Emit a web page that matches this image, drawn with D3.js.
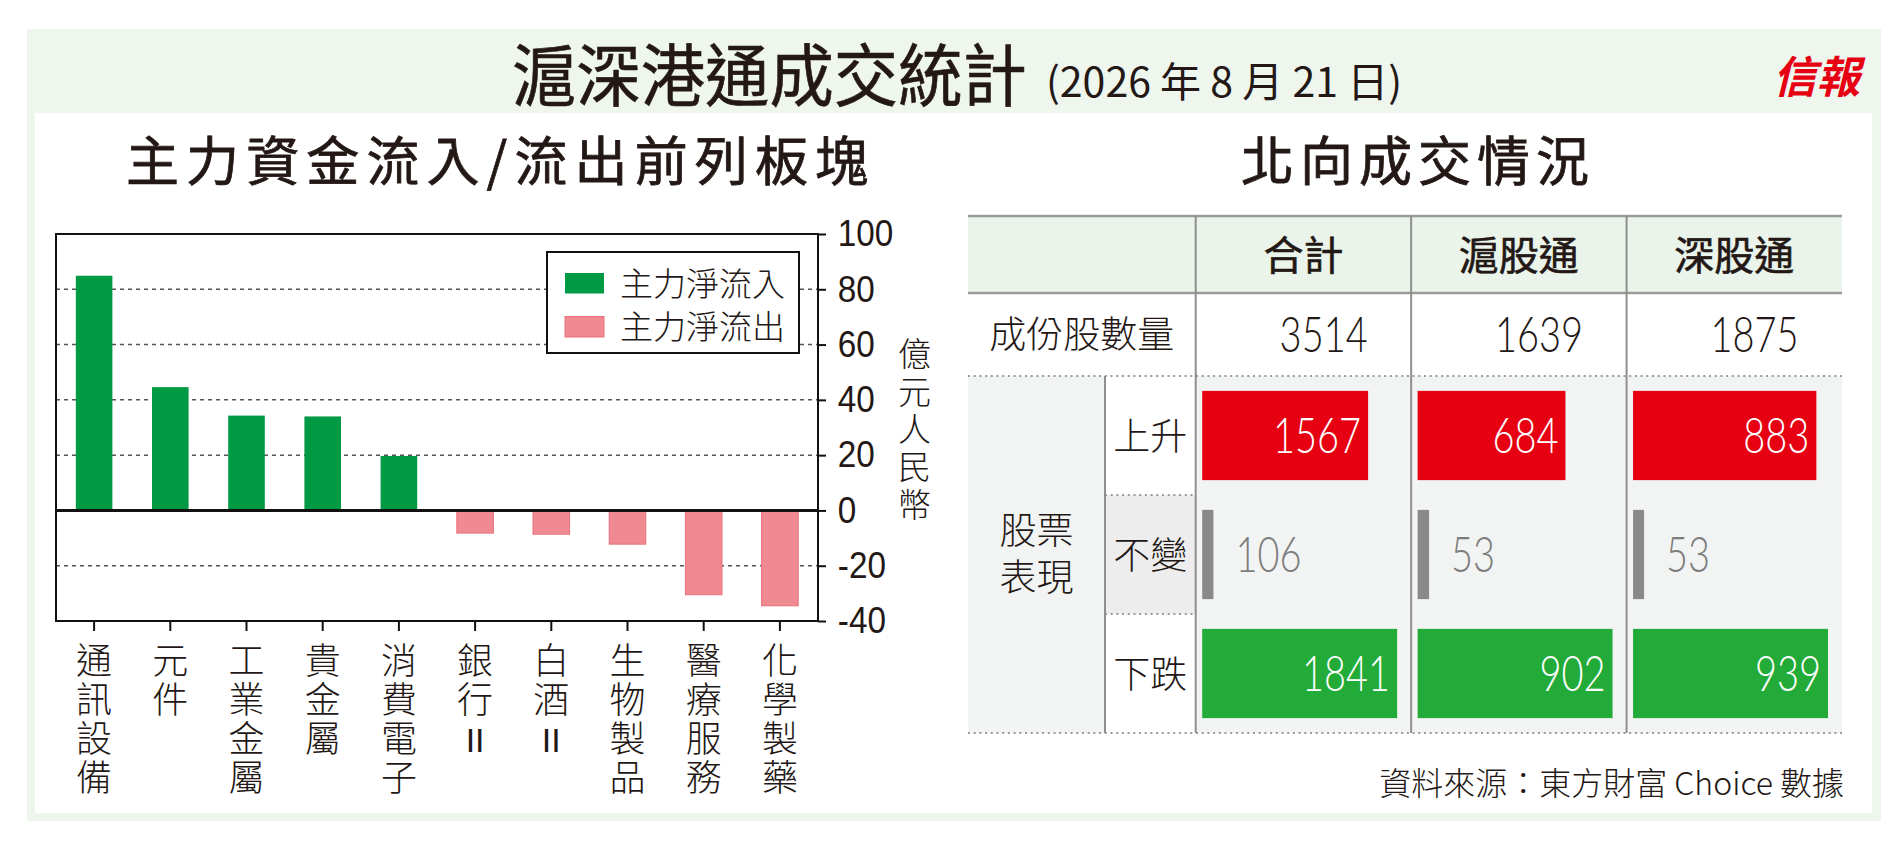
<!DOCTYPE html>
<html>
<head>
<meta charset="utf-8">
<script src="https://cdn.jsdelivr.net/npm/d3@7/dist/d3.min.js"></script>
<style>
  html, body { margin: 0; padding: 0; background: #ffffff; }
  svg { display: block; }
  .vert { writing-mode: vertical-rl; text-orientation: upright; }
</style>
</head>
<body>
<svg id="chart" width="1903" height="845"></svg>
<script>
// ---------------- DATA ----------------
const titleMain = "滬深港通成交統計";
const titleDate = "(2026 年 8 月 21 日)";
const leftHeading = "主力資金流入/流出前列板塊";
const rightHeading = "北向成交情況";
const logoText = "信報";

const categories = ["通訊設備", "元件", "工業金屬", "貴金屬", "消費電子", "銀行II", "白酒II", "生物製品", "醫療服務", "化學製藥"];
const netFlow = [84.9, 44.6, 34.3, 34.0, 19.7, -8.2, -8.6, -12.2, -30.5, -34.5];
const yTicks = [-40, -20, 0, 20, 40, 60, 80, 100];
const gridValues = [80, 60, 40, 20, -20];
const legendLabels = ["主力淨流入", "主力淨流出"];
const yAxisTitle = "億元人民幣";

const columns = ["合計", "滬股通", "深股通"];
const constituentLabel = "成份股數量";
const constituents = [3514, 1639, 1875];
const perfGroupLabel = ["股票", "表現"];
const perfRows = ["上升", "不變", "下跌"];
const rising = [1567, 684, 883];
const unchanged = [106, 53, 53];
const falling = [1841, 902, 939];
const sourceText = "資料來源：東方財富 Choice 數據";

// ---------------- STYLE ----------------
const INK = "#231815";
const CJK = "'Noto Sans CJK TC', 'Noto Sans CJK SC', sans-serif";
const GREEN = "#009944", PINK = "#f08a92", PINK_EDGE = "#e9707b";
const T_RED = "#e60012", T_GREEN = "#22ab38", T_GRAY = "#898989";

const svg = d3.select("#chart");

// panels
svg.append("rect").attr("x", 27).attr("y", 29).attr("width", 1854).attr("height", 792).attr("fill", "#eef6ee");
svg.append("rect").attr("x", 35).attr("y", 113).attr("width", 1837).attr("height", 700).attr("fill", "#ffffff");

// title
svg.append("text").attr("x", 512).attr("y", 101)
  .attr("font-family", CJK).attr("font-size", 68).attr("font-weight", 400).attr("fill", INK)
  .attr("stroke", INK).attr("stroke-width", 0.6)
  .attr("textLength", 515).attr("lengthAdjust", "spacingAndGlyphs")
  .text(titleMain);
svg.append("text").attr("x", 1046).attr("y", 97)
  .attr("font-family", CJK).attr("font-size", 41).attr("font-weight", 400).attr("fill", INK)
  .attr("textLength", 356).attr("lengthAdjust", "spacingAndGlyphs")
  .text(titleDate);
svg.append("text").attr("x", 1773).attr("y", 93)
  .attr("font-family", CJK).attr("font-size", 44).attr("font-weight", 700).attr("fill", "#e60012")
  .attr("textLength", 87).attr("lengthAdjust", "spacingAndGlyphs")
  .attr("font-style", "italic")
  .text(logoText);

// headings
svg.append("text").attr("x", 126).attr("y", 181)
  .attr("font-family", CJK).attr("font-size", 53).attr("font-weight", 400).attr("fill", INK)
  .attr("stroke", INK).attr("stroke-width", 0.8)
  .attr("textLength", 742).attr("lengthAdjust", "spacing")
  .text(leftHeading);
svg.append("text").attr("x", 1241).attr("y", 181)
  .attr("font-family", CJK).attr("font-size", 53).attr("font-weight", 400).attr("fill", INK)
  .attr("stroke", INK).attr("stroke-width", 0.8)
  .attr("textLength", 348).attr("lengthAdjust", "spacing")
  .text(rightHeading);

// ---------------- BAR CHART ----------------
const plot = { left: 56, right: 818, top: 234, bottom: 621 };
const x = d3.scaleBand().domain(categories).range([plot.left, plot.right]).paddingInner(0.52).paddingOuter(0.26);
const y = d3.scaleLinear().domain([-40, 100]).range([plot.bottom, plot.top]);

const gChart = svg.append("g");

// grid
gChart.selectAll("line.grid").data(gridValues).join("line")
  .attr("x1", plot.left).attr("x2", plot.right)
  .attr("y1", d => y(d)).attr("y2", d => y(d))
  .attr("stroke", "#555").attr("stroke-width", 1.5).attr("stroke-dasharray", "4,4");

// bars
gChart.selectAll("rect.bar").data(netFlow).join("rect")
  .attr("x", (d, i) => x(categories[i]))
  .attr("width", x.bandwidth())
  .attr("y", d => y(Math.max(0, d)))
  .attr("height", d => Math.abs(y(d) - y(0)))
  .attr("fill", d => d >= 0 ? GREEN : PINK)
  .attr("stroke", d => d >= 0 ? "none" : PINK_EDGE)
  .attr("stroke-width", 1);

// frame
gChart.append("rect").attr("x", plot.left).attr("y", plot.top)
  .attr("width", plot.right - plot.left).attr("height", plot.bottom - plot.top)
  .attr("fill", "none").attr("stroke", "#111").attr("stroke-width", 2);

// zero line
gChart.append("line").attr("x1", plot.left).attr("x2", plot.right)
  .attr("y1", y(0)).attr("y2", y(0)).attr("stroke", "#111").attr("stroke-width", 3);

// right axis
const axR = gChart.append("g").attr("transform", `translate(${plot.right},0)`)
  .call(d3.axisRight(y).tickValues(yTicks).tickSize(8).tickPadding(14).tickFormat(d => String(d)));
axR.select(".domain").remove();
axR.selectAll(".tick line").attr("stroke", "#111").attr("stroke-width", 2);
axR.selectAll(".tick text")
  .attr("font-family", "'Liberation Sans', Arial, sans-serif")
  .attr("font-size", 37).attr("fill", INK)
  .attr("transform", "scale(0.9,1)");

// bottom ticks
const axB = gChart.append("g").attr("transform", `translate(0,${plot.bottom})`)
  .call(d3.axisBottom(x).tickSize(10).tickFormat(""));
axB.select(".domain").remove();
axB.selectAll(".tick line").attr("stroke", "#111").attr("stroke-width", 2);

// vertical category labels (CJK part written vertically, latin suffix upright below)
const labelTop = 642, labelStep = 39;
categories.forEach(cat => {
  const m = cat.match(/^(.*?)([A-Za-z]*)$/);
  const cjk = m[1], latin = m[2];
  const cx = x(cat) + x.bandwidth() / 2;
  gChart.append("text").attr("class", "vert")
    .attr("x", cx).attr("y", labelTop)
    .attr("font-family", CJK).attr("font-size", 36).attr("font-weight", 300).attr("fill", INK)
    .attr("letter-spacing", labelStep - 36)
    .text(cjk);
  if (latin) {
    gChart.append("text")
      .attr("x", cx).attr("y", labelTop + 18 + labelStep * Array.from(cjk).length + 13.5)
      .attr("text-anchor", "middle")
      .attr("font-family", "'Liberation Sans', Arial, sans-serif").attr("font-size", 34).attr("fill", INK)
      .text(latin);
  }
});

// legend
const lg = gChart.append("g");
lg.append("rect").attr("x", 547).attr("y", 252).attr("width", 252).attr("height", 101)
  .attr("fill", "#fff").attr("stroke", "#111").attr("stroke-width", 2);
const lgColors = [GREEN, PINK];
legendLabels.forEach((lab, i) => {
  const cy = 283 + i * 43.5;
  lg.append("rect").attr("x", 565).attr("y", cy - 10).attr("width", 39).attr("height", 20.5)
    .attr("fill", lgColors[i]).attr("stroke", i === 1 ? PINK_EDGE : "none").attr("stroke-width", 1);
  lg.append("text").attr("x", 620).attr("y", cy + 12.5)
    .attr("font-family", CJK).attr("font-size", 33).attr("font-weight", 300).attr("fill", INK)
    .text(lab);
});

// y-axis title (vertical, HTML block for a tight box)
const yfo = gChart.append("foreignObject")
  .attr("x", 914 - 16.5).attr("y", 336.5).attr("width", 33).attr("height", 200);
yfo.append("xhtml:div")
  .style("writing-mode", "vertical-rl").style("text-orientation", "upright")
  .style("font-family", CJK).style("font-size", "33px").style("font-weight", 300)
  .style("line-height", "33px").style("letter-spacing", "4.7px").style("color", INK)
  .text(yAxisTitle);

// ---------------- TABLE ----------------
const tb = { left: 968, sub: 1105, dataLeft: 1195.7, right: 1842, top: 216, head: 293, mid: 376, bottom: 733 };
const col = d3.scaleBand().domain(columns).range([tb.dataLeft, tb.right]);
const row = d3.scaleBand().domain(perfRows).range([tb.mid, tb.bottom]).paddingInner(0.25).paddingOuter(0.125);
const rowFull = d3.scaleBand().domain(perfRows).range([tb.mid, tb.bottom]);
const series = [rising, unchanged, falling];
const barColors = [T_RED, T_GRAY, T_GREEN];

const gT = svg.append("g");

// backgrounds
gT.append("rect").attr("x", tb.left).attr("y", tb.top).attr("width", tb.right - tb.left).attr("height", tb.head - tb.top).attr("fill", "#eaf4eb");
gT.append("rect").attr("x", tb.left).attr("y", tb.mid).attr("width", tb.right - tb.left).attr("height", tb.bottom - tb.mid).attr("fill", "#f2f4f3");
perfRows.forEach((r, i) => {
  gT.append("rect").attr("x", tb.sub).attr("y", rowFull(r)).attr("width", tb.dataLeft - tb.sub).attr("height", rowFull.bandwidth())
    .attr("fill", i === 1 ? "#ededed" : "#ffffff");
});

// header texts
gT.selectAll("text.head").data(columns).join("text")
  .attr("x", d => col(d) + col.bandwidth() / 2).attr("y", (tb.top + tb.head) / 2 + 15)
  .attr("text-anchor", "middle")
  .attr("font-family", CJK).attr("font-size", 40).attr("font-weight", 400).attr("fill", INK)
  .attr("stroke", INK).attr("stroke-width", 0.6)
  .text(d => d);

// constituents row
gT.append("text").attr("x", (tb.left + tb.dataLeft) / 2).attr("y", 334 + 14)
  .attr("text-anchor", "middle")
  .attr("font-family", CJK).attr("font-size", 37).attr("font-weight", 300).attr("fill", INK)
  .text(constituentLabel);
gT.selectAll("text.cons").data(constituents).join("text")
  .attr("transform", (d, i) => `translate(${col(columns[i]) + 172},${334}) scale(0.775,1)`)
  .attr("dy", "0.36em").attr("text-anchor", "end")
  .attr("font-family", "Lato, 'Liberation Sans', sans-serif").attr("font-size", 49).attr("font-weight", 300).attr("fill", INK)
  .text(d => d);

// group label (two lines in one text node)
const fo = gT.append("foreignObject")
  .attr("x", tb.left).attr("y", 504.75).attr("width", tb.sub - tb.left).attr("height", 100);
fo.append("xhtml:div")
  .style("font-family", CJK).style("font-size", "37px").style("font-weight", 300)
  .style("line-height", "47.5px").style("text-align", "center").style("color", INK)
  .style("white-space", "pre-line")
  .text(perfGroupLabel.join("\n"));

// row labels
gT.selectAll("text.rowlab").data(perfRows).join("text")
  .attr("x", (tb.sub + tb.dataLeft) / 2).attr("y", d => rowFull(d) + rowFull.bandwidth() / 2 + 14)
  .attr("text-anchor", "middle")
  .attr("font-family", CJK).attr("font-size", 37).attr("font-weight", 300).attr("fill", INK)
  .text(d => d);

// bars per column
columns.forEach((c, ci) => {
  const vals = series.map(s => s[ci]);
  const bx = d3.scaleLinear().domain([0, d3.max(vals)]).range([0, col.bandwidth() - 20.5]);
  const x0 = col(c) + 6.5;
  perfRows.forEach((r, ri) => {
    const v = series[ri][ci];
    const w = bx(v);
    gT.append("rect").attr("x", x0).attr("y", row(r)).attr("width", w).attr("height", row.bandwidth())
      .attr("fill", barColors[ri]);
    const inside = w > 80;
    const cy = row(r) + row.bandwidth() / 2;
    gT.append("text")
      .attr("transform", `translate(${inside ? x0 + w - 7 : x0 + w + 22},${cy}) scale(0.775,1)`)
      .attr("dy", "0.36em").attr("text-anchor", inside ? "end" : "start")
      .attr("font-family", "Lato, 'Liberation Sans', sans-serif").attr("font-size", 49).attr("font-weight", 300)
      .attr("fill", inside ? "#ffffff" : "#7d7d7d")
      .text(v);
  });
});

// lines
const solid = (x1, y1, x2, y2, w, c) => gT.append("line").attr("x1", x1).attr("y1", y1).attr("x2", x2).attr("y2", y2)
  .attr("stroke", c).attr("stroke-width", w);
const dotted = (x1, y1, x2, y2) => gT.append("line").attr("x1", x1).attr("y1", y1).attr("x2", x2).attr("y2", y2)
  .attr("stroke", "#9a9a9a").attr("stroke-width", 2).attr("stroke-dasharray", "2,3.7");
solid(tb.left, tb.top, tb.right, tb.top, 2.5, "#9a9a9a");
solid(tb.left, tb.head, tb.right, tb.head, 2.5, "#9a9a9a");
dotted(tb.left, tb.mid, tb.right, tb.mid);
dotted(tb.left, tb.bottom, tb.right, tb.bottom);
perfRows.slice(1).forEach(r => dotted(tb.sub, rowFull(r), tb.dataLeft, rowFull(r)));
columns.forEach(c => solid(col(c), tb.top, col(c), tb.bottom, 2, "#8f8f8f"));
solid(tb.sub, tb.mid, tb.sub, tb.bottom, 2, "#8f8f8f");

// source
svg.append("text").attr("x", 1844).attr("y", 795).attr("text-anchor", "end")
  .attr("font-family", CJK).attr("font-size", 32).attr("font-weight", 300).attr("fill", INK)
  .text(sourceText);
</script>
</body>
</html>
